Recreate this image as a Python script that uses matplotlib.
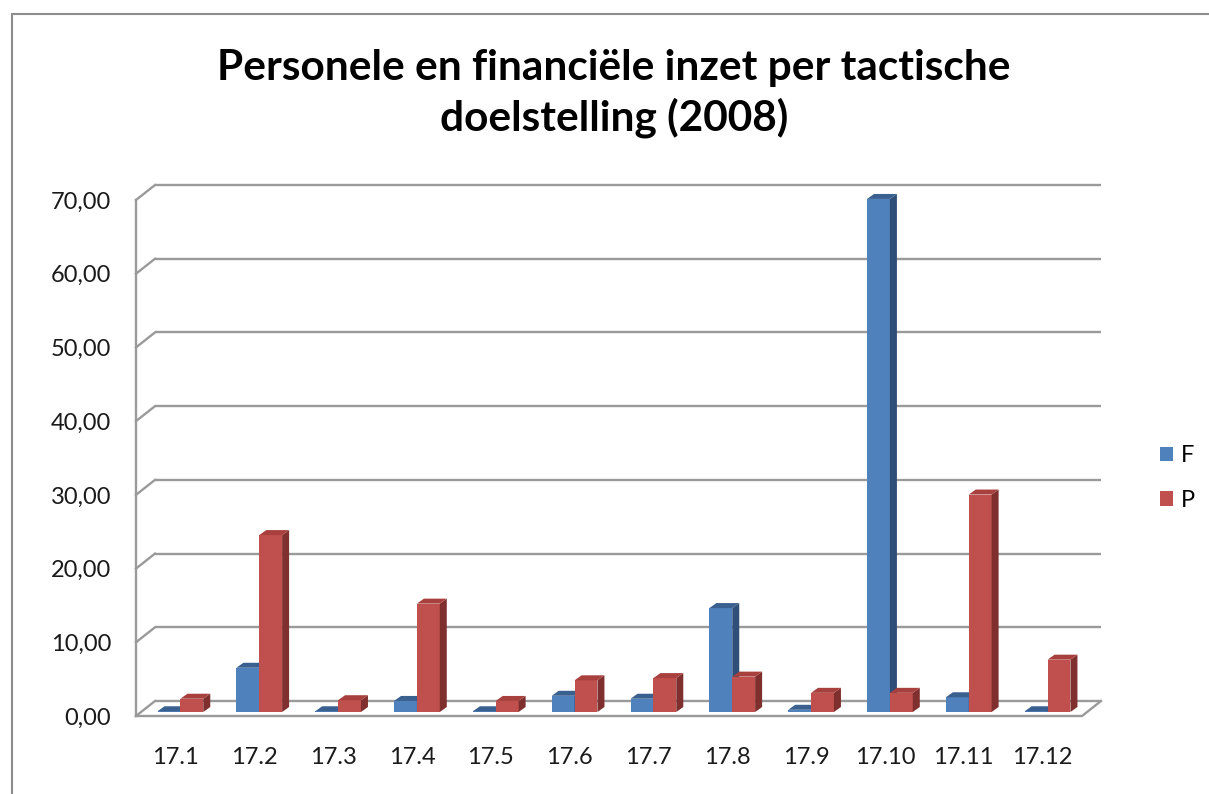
import numpy as np
import matplotlib.pyplot as plt
from matplotlib.patches import Polygon, Rectangle, Patch

# data
categories = ['17.1', '17.2', '17.3', '17.4', '17.5', '17.6',
              '17.7', '17.8', '17.9', '17.10', '17.11', '17.12']
f_values = [0.1, 6.0, 0.1, 1.5, 0.1, 2.2, 1.8, 14.1, 0.3, 69.6, 2.0, 0.1]
p_values = [1.8, 24.0, 1.6, 14.7, 1.5, 4.3, 4.6, 4.8, 2.6, 2.6, 29.5, 7.1]
y_ticks = [0, 10, 20, 30, 40, 50, 60, 70]
series = [('F', f_values), ('P', p_values)]
title_lines = ['Personele en financiële inzet per tactische', 'doelstelling (2008)']

colors = {
    'F': ('#4f81bd', '#3a6090', '#2f4e78'),   # front, top, side
    'P': ('#c0504d', '#a8413e', '#7f2f2d'),
}
grid_color = '#9a9a9a'

W, H = 1209, 794
plt.rcParams['font.family'] = ['Lato', 'DejaVu Sans']
fig = plt.figure(figsize=(W / 100, H / 100), dpi=100)

# outer chart frame (runs off the right/bottom edge like the screenshot)
fig.patches.append(Rectangle((12 / W, -0.05), 1.1, 1 - 14 / H + 0.05, transform=fig.transFigure,
                             fill=False, ec='#8c8c8c', lw=1.5))

# front plane of the 3d box in pixels
left, right, y_zero, y_top = 136, 1082, 716, 200
ax = fig.add_axes([left / W, 1 - y_zero / H, (right - left) / W, (y_zero - y_top) / H])
ax.set_xlim(-0.5, 11.5)
ax.set_ylim(0, 70)
for s in ax.spines.values():
    s.set_visible(False)

sx = 12 / (right - left)      # data units per pixel, x
sy = 70 / (y_zero - y_top)    # data units per pixel, y

# depth offsets (pixels)
back_dx, back_dy = 19 * sx, 15 * sy
plane_dx, plane_dy = 5 * sx, 4 * sy
depth_dx, depth_dy = 7 * sx, 5 * sy

x0, x1 = -0.5, 11.5
# back wall gridlines + left wall diagonals
for v in y_ticks:
    ax.plot([x0 + back_dx, x1 + back_dx], [v + back_dy, v + back_dy], color=grid_color,
            lw=1.7, clip_on=False, zorder=1, solid_capstyle='butt')
    ax.plot([x0, x0 + back_dx], [v, v + back_dy], color=grid_color, lw=1.7,
            clip_on=False, zorder=1)
# left edge and floor
ax.plot([x0, x0], [0, 70], color=grid_color, lw=1.7, clip_on=False, zorder=1)
ax.plot([x0, x1, x1 + back_dx], [0, 0, back_dy], color=grid_color, lw=1.7,
        clip_on=False, zorder=1)

# bars
x = np.arange(len(categories))
w = 0.29
for k, (name, vals) in enumerate(series):
    front, top, side = colors[name]
    xs = x + plane_dx + (k - 0.5) * w
    z = 3 + k
    ax.bar(xs, vals, width=w, bottom=plane_dy, color=front, zorder=z, clip_on=False)
    for xc, v in zip(xs, vals):
        xl, xr = xc - w / 2, xc + w / 2
        b, t = plane_dy, plane_dy + v
        ax.add_patch(Polygon([(xr, b), (xr + depth_dx, b + depth_dy),
                              (xr + depth_dx, t + depth_dy), (xr, t)],
                             closed=True, fc=side, ec='none', zorder=z, clip_on=False))
        ax.add_patch(Polygon([(xl, t), (xl + depth_dx, t + depth_dy),
                              (xr + depth_dx, t + depth_dy), (xr, t)],
                             closed=True, fc=top, ec='none', zorder=z, clip_on=False))

# ticks
ax.set_yticks(y_ticks)
ax.set_yticklabels([f'{v:.2f}'.replace('.', ',') for v in y_ticks])
ax.set_xticks(x)
ax.set_xticklabels(categories)
ax.tick_params(axis='y', length=0, pad=18, labelsize=17, labelcolor='#1a1a1a')
ax.tick_params(axis='x', length=0, pad=22, labelsize=17, labelcolor='#1a1a1a')

# title
for i, line in enumerate(title_lines):
    fig.text(614 / W, 1 - (80 + 51 * i) / H, line, ha='center', va='baseline',
             fontsize=30.5, fontweight='bold', color='black')

# legend
handles = [Patch(fc=colors[n][0], ec='none') for n, _ in series]
fig.legend(handles, [n for n, _ in series], loc='center left',
           bbox_to_anchor=(1160 / W, 1 - 478 / H), frameon=False,
           handlelength=0.55, handleheight=0.55, handletextpad=0.35,
           labelspacing=1.0, fontsize=17, borderpad=0, borderaxespad=0)

fig.savefig('out.png', dpi=100)
